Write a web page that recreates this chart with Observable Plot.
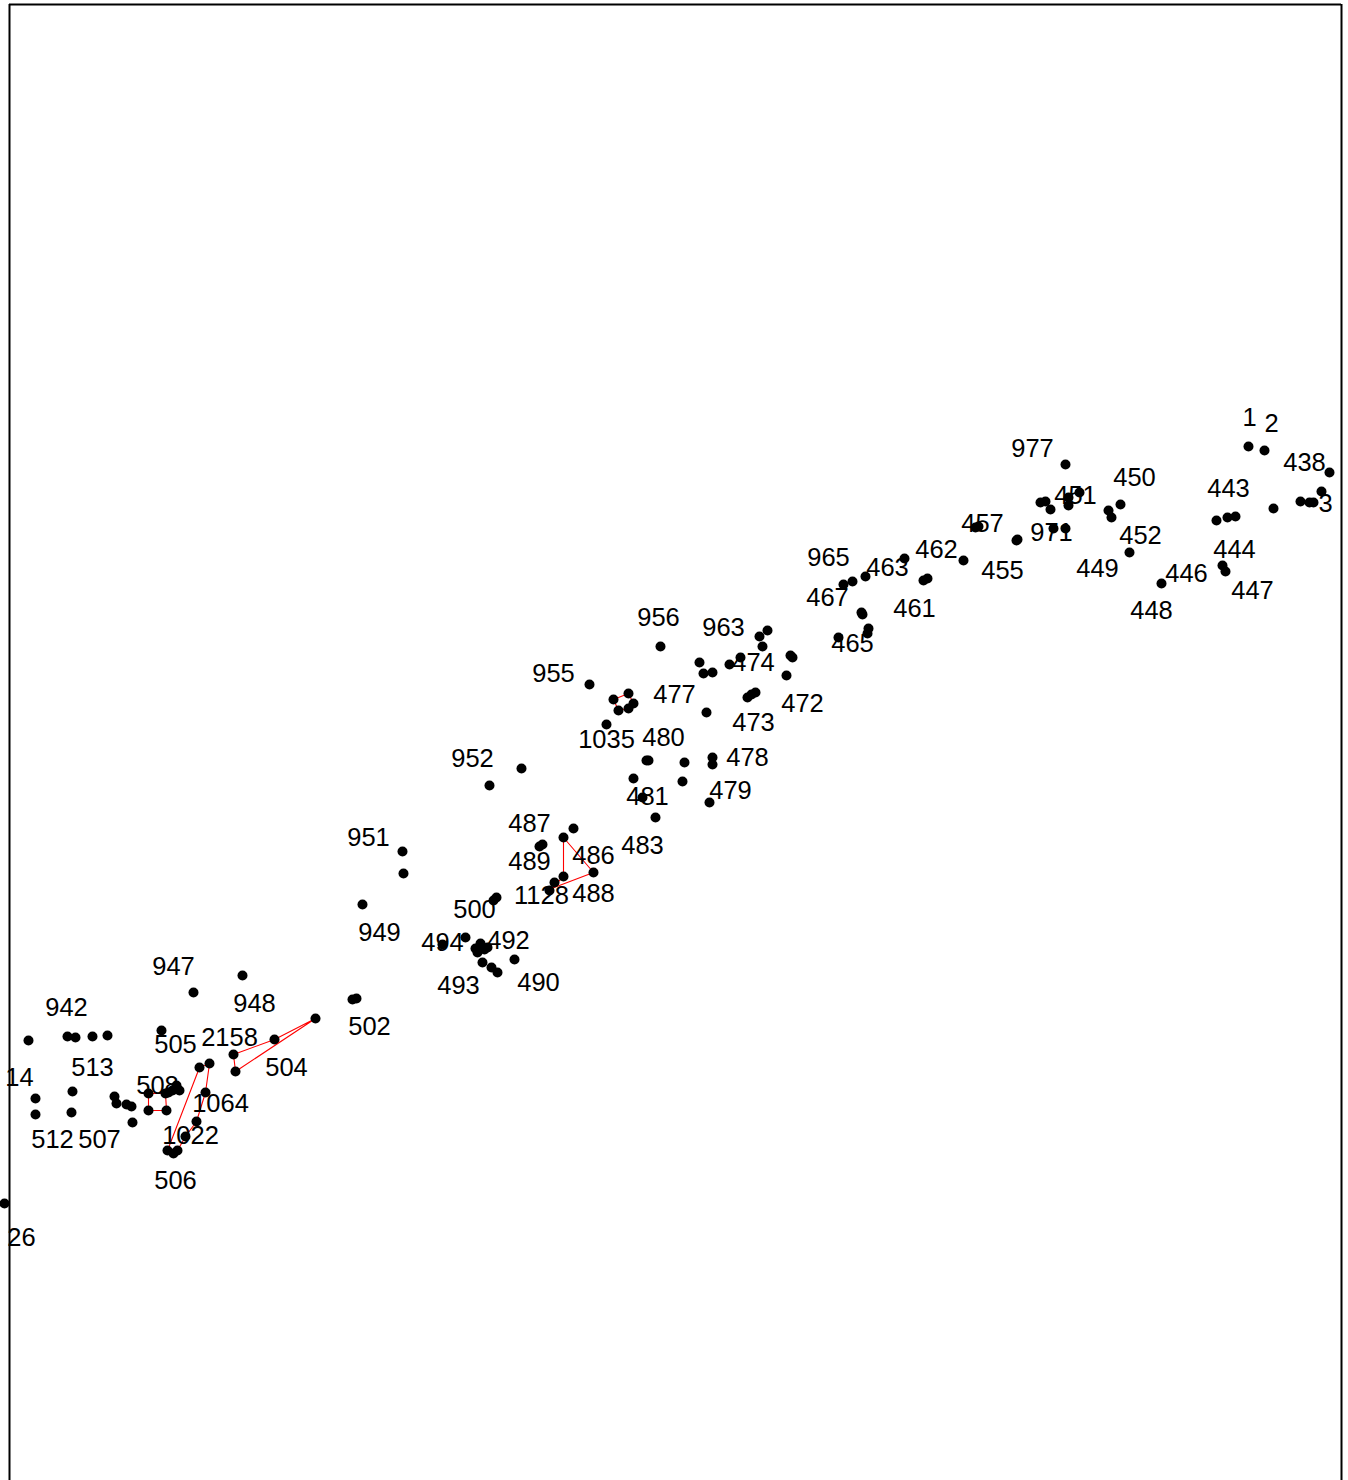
<!DOCTYPE html>
<html>
<head>
<meta charset="utf-8">
<script src="https://cdn.jsdelivr.net/npm/d3@7"></script>
<script src="https://cdn.jsdelivr.net/npm/@observablehq/plot@0.6"></script>
<style>
  html, body { margin: 0; padding: 0; background: #fff; overflow: hidden; }
  #chart svg { display: block; }
</style>
</head>
<body>
<div id="chart"></div>
<script>
// Point positions (horizontal position, vertical position measured downward)
const pointX = [
  28, 67, 75, 92, 107, 161, 193, 242, 352, 356, 315, 274, 233, 235, 199, 209, 205, 196, 185, 167, 173, 177,
  148, 165, 148, 166, 172, 176, 179, 168, 114, 116, 126, 131, 132, 72, 71, 35, 35, 4,
  402, 403, 362, 493, 496, 539, 542, 563, 573, 563, 593, 554, 549, 442, 465,
  475, 480, 484, 477, 487, 482, 491, 497, 514,
  660, 767, 759, 762, 790, 792, 786, 740, 729, 699, 703, 712, 589,
  613, 628, 633, 628, 618, 606, 706, 747, 755, 751, 646, 648, 684, 712, 712, 521, 489, 633, 642, 682, 709, 655,
  843, 852, 865, 904, 861, 862, 868, 867, 838, 963, 923, 927, 975, 978, 1016, 1017, 1053, 1065, 1065,
  1040, 1045, 1050, 1068, 1068, 1079, 1120, 1108, 1111, 1129, 1161, 1216, 1227, 1235, 1222, 1225,
  1248, 1264, 1329, 1321, 1273, 1300, 1309, 1313
];
const pointY = [
  1040, 1036, 1037, 1036, 1035, 1030, 992, 975, 999, 998, 1018, 1039, 1054, 1071, 1067, 1063, 1092, 1121, 1136, 1150, 1153, 1150,
  1093, 1093, 1110, 1110, 1090, 1085, 1090, 1092, 1096, 1103, 1104, 1106, 1122, 1091, 1112, 1098, 1114, 1203,
  851, 873, 904, 900, 897, 846, 844, 837, 828, 876, 872, 882, 890, 944, 937,
  948, 943, 949, 952, 947, 962, 967, 972, 959,
  646, 630, 636, 646, 655, 657, 675, 657, 664, 662, 673, 672, 684,
  699, 693, 703, 708, 710, 724, 712, 697, 692, 694, 760, 760, 762, 757, 764, 768, 785, 778, 797, 781, 802, 817,
  584, 581, 576, 558, 612, 614, 628, 633, 637, 560, 580, 578, 527, 526, 540, 539, 528, 528, 464,
  502, 501, 509, 497, 505, 492, 504, 510, 517, 552, 583, 520, 517, 516, 565, 571,
  446, 450, 472, 491, 508, 501, 502, 502
];

// Labels
const labelText = [
  "942", "14", "26", "513", "512", "507", "947", "948", "505", "2158", "504", "508", "1064", "1022", "506", "502",
  "951", "949", "500", "487", "489", "486", "1128", "488", "494", "492", "493", "490",
  "952", "955", "956", "963", "474", "477", "473", "472", "1035", "480", "478", "481", "479", "483",
  "965", "467", "463", "465", "462", "461", "457", "455", "971", "977", "451", "450", "452", "449",
  "446", "448", "443", "444", "447", "1", "2", "438", "3"
];
const labelX = [
  66, 19, 21, 92, 52, 99, 173, 254, 175, 229, 286, 157, 220, 190, 175, 369,
  368, 379, 474, 529, 529, 593, 541, 593, 442, 508, 458, 538,
  472, 553, 658, 723, 753, 674, 753, 802, 606, 663, 747, 647, 730, 642,
  828, 827, 887, 852, 936, 914, 982, 1002, 1051, 1032, 1075, 1134, 1140, 1097,
  1186, 1151, 1228, 1234, 1252, 1249, 1271, 1304, 1325
];
const labelY = [
  1007, 1077, 1237, 1067, 1139, 1139, 966, 1003, 1044, 1037, 1067, 1085, 1103, 1135, 1180, 1026,
  837, 932, 909, 823, 861, 855, 895, 893, 942, 940, 985, 982,
  758, 673, 617, 627, 662, 694, 722, 703, 739, 737, 757, 796, 790, 845,
  557, 597, 567, 643, 549, 608, 523, 570, 532, 448, 495, 477, 535, 568,
  573, 610, 488, 549, 590, 417, 423, 462, 503
];

// Red outlines (closed rings)
const ringGroup = [
  "a", "a", "a", "a", "a",
  "b", "b", "b", "b", "b", "b", "b", "b",
  "c", "c", "c", "c", "c",
  "d", "d", "d", "d", "d",
  "e", "e", "e", "e", "e", "e"
];
const ringX = [
  233, 274, 315, 235, 233,
  167, 199, 209, 205, 196, 185, 177, 167,
  148, 165, 166, 148, 148,
  563, 593, 551, 563, 563,
  613, 628, 633, 628, 618, 613
];
const ringY = [
  1054, 1039, 1018, 1071, 1054,
  1150, 1067, 1063, 1092, 1121, 1136, 1150, 1150,
  1093, 1093, 1110, 1110, 1093,
  837, 872, 888, 876, 837,
  699, 693, 703, 708, 710, 699
];

const points = pointX.map((x, i) => ({x, y: pointY[i]}));
const labels = labelText.map((t, i) => ({t, x: labelX[i], y: labelY[i]}));
const rings = ringX.map((x, i) => ({g: ringGroup[i], x, y: ringY[i]}));

const W = 1348, H = 1480;
const chart = Plot.plot({
  width: W,
  height: H,
  margin: 0,
  x: {domain: [0, W], axis: null},
  y: {domain: [0, H], reverse: true, axis: null},
  style: {background: "#fff", fontFamily: "'Liberation Sans', Arial, sans-serif"},
  marks: [
    Plot.ruleY([4], {x1: 9, x2: 1341, stroke: "#000", strokeWidth: 2}),
    Plot.ruleX([9, 1341], {y1: 4, y2: H, stroke: "#000", strokeWidth: 2}),
    Plot.line(rings, {x: "x", y: "y", z: "g", stroke: "red", strokeWidth: 1.1}),
    Plot.dot(points, {x: "x", y: "y", r: 5, fill: "#000", stroke: "none"}),
    Plot.text(labels, {x: "x", y: "y", text: "t", fontSize: 25.5, fill: "#000"})
  ]
});
document.getElementById("chart").appendChild(chart);
</script>
</body>
</html>
